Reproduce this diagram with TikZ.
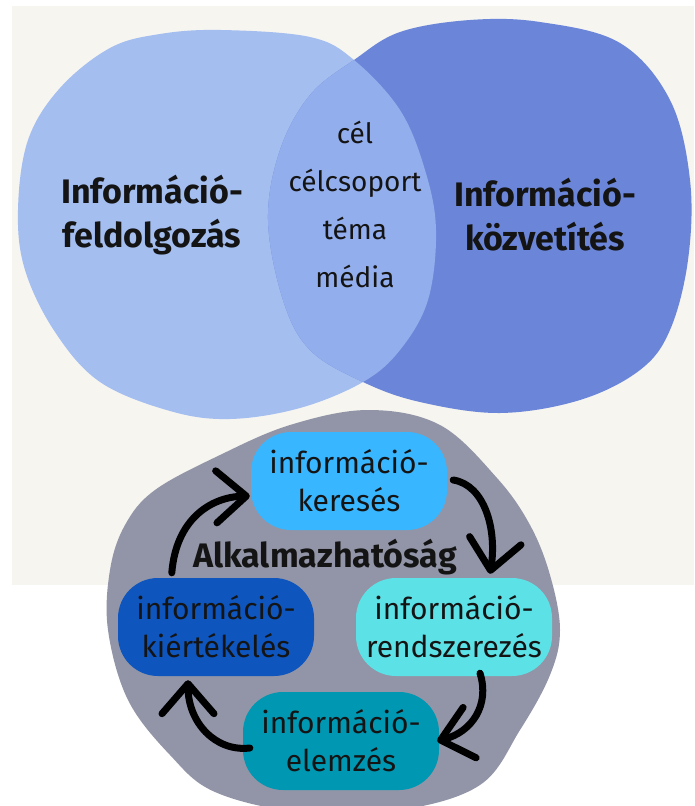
\documentclass[tikz,border=0pt]{standalone}
\usepackage{fontspec}
\setmainfont{Fira Sans}
\usetikzlibrary{arrows.meta,calc}
\definecolor{bgoff}{HTML}{F6F5F0}
\definecolor{blobL}{HTML}{A4BEF0}
\definecolor{blobR}{HTML}{6B85D9}
\definecolor{blobM}{HTML}{93AEEC}
\definecolor{greyblob}{HTML}{9295A7}
\definecolor{boxA}{HTML}{38B6FF}
\definecolor{boxB}{HTML}{5CE1E6}
\definecolor{boxC}{HTML}{0E55BE}
\definecolor{boxD}{HTML}{0097B2}
\definecolor{ink}{HTML}{141414}
\begin{document}
\begin{tikzpicture}[x=1pt,y=-1pt,
  cyclebox/.style={rounded corners=40pt, minimum width=196pt, minimum height=98pt, align=center, inner sep=0pt, text=ink, font=\fontsize{30}{38}\selectfont},
  biglabel/.style={align=center, text=ink, font=\fontsize{34}{44}\selectfont\bfseries},
  midlabel/.style={align=center, text=ink, font=\fontsize{28}{48}\selectfont},
  cyclearrow/.style={line width=7pt, line cap=round, draw=black, -{Straight Barb[length=30pt,width=52pt,line width=7pt,round]}}
]
\useasboundingbox (0,0) rectangle (694,806);
\fill[white] (0,0) rectangle (694,806);
\fill[bgoff] (12,6) rectangle (694,585);
\def\leftblob{plot[smooth cycle, tension=0.6] coordinates {(221,30) (310,37) (354,60) (400,110) (425,170) (436,230) (428,300) (400,350) (363,382) (300,408) (230,419) (170,411) (100,382) (55,332) (25,270) (18,210) (28,140) (60,88) (110,48) (160,34)}}
\def\rightblob{plot[smooth cycle, tension=0.6] coordinates {(354,60) (400,32) (470,20) (540,22) (620,43) (670,100) (690,180) (688,260) (670,330) (640,370) (580,400) (500,413) (420,402) (363,382) (310,350) (283,300) (268,220) (280,150) (310,95)}}
\fill[blobL] \leftblob;
\fill[blobR] \rightblob;
\begin{scope}
\clip \leftblob;
\fill[blobM] \rightblob;
\end{scope}
\begin{scope}
\clip (0,0) rectangle (694,806);
\fill[greyblob] plot[smooth cycle, tension=0.6] coordinates {(368,410) (440,425) (497,478) (530,525) (550,575) (560,630) (550,675) (520,730) (480,785) (400,810) (300,812) (215,792) (170,755) (128,700) (108,630) (110,570) (125,525) (155,490) (220,455) (290,425)};
\end{scope}
\node[biglabel] (procL) at (152,215) {Információ-\\feldolgozás};
\node[biglabel] (procR) at (545,215) {Információ-\\közvetítés};
\node[midlabel] (common) at (355,204) {cél\\célcsoport\\téma\\média};
\node[cyclebox, fill=boxA] (kereses) at (349,481) {információ-\\keresés};
\node[cyclebox, fill=boxB] (rendsz) at (454,627) {információ-\\rendszerezés};
\node[cyclebox, fill=boxC] (kiert) at (216,627) {információ-\\kiértékelés};
\node[cyclebox, fill=boxD] (elemzes) at (341,741) {információ-\\elemzés};
\node[biglabel] (alk) at (325,557) {Alkalmazhatóság};
\draw[cyclearrow] ($(kiert.north west)+(54,-5)$) .. controls (176,520) and (210,497) .. ($(kereses.west)+(-1,15)$);
\draw[cyclearrow] ($(kereses.east)+(6,-1)$) .. controls (485,485) and (497,530) .. ($(rendsz.north)+(36,-4)$);
\draw[cyclearrow] ($(rendsz.south)+(26,-3)$) .. controls (490,705) and (472,732) .. ($(elemzes.east)+(-2,0)$);
\draw[cyclearrow] ($(elemzes.west)+(7,7)$) .. controls (215,752) and (188,722) .. ($(kiert.south)+(-28,4)$);
\end{tikzpicture}
\end{document}
